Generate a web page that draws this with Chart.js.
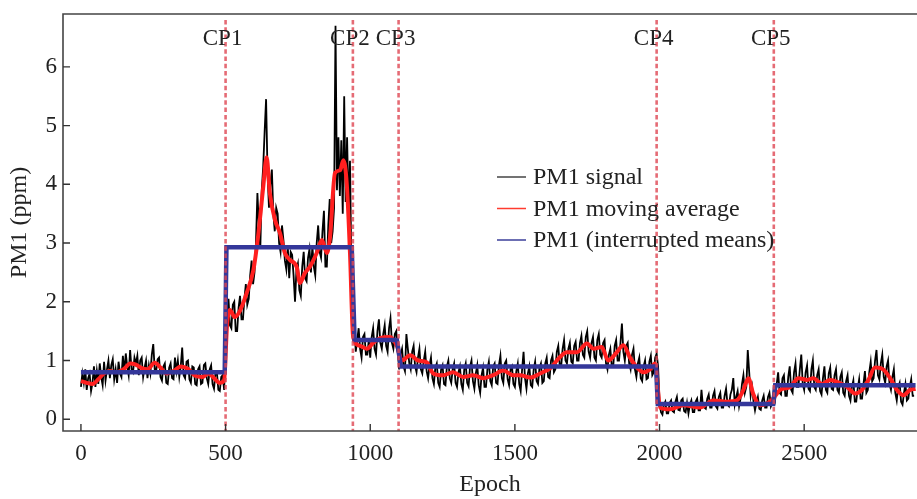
<!DOCTYPE html>
<html>
<head>
<meta charset="utf-8">
<script src="https://cdn.jsdelivr.net/npm/chart.js@4.4.1/dist/chart.umd.min.js"></script>
<style>
  html, body { margin: 0; padding: 0; background: #fff; }
  #pmChart { display: block; }
</style>
</head>
<body>
<canvas id="pmChart" width="917" height="499"></canvas>
<script>
// PM1 raw signal, one reading every 5 epochs (each row = 100 epochs)
const signalStep = 5;
const signalValues = [
  0.55, 0.78, 0.62, 0.85, 0.5, 0.7, 0.78, 0.48, 0.62, 0.9, 0.55, 0.82, 0.6, 0.95, 0.72, 0.58, 0.98, 0.66, 0.85, 1.0,
  0.7, 0.92, 1.02, 0.68, 0.85, 0.62, 0.98, 0.78, 0.72, 1.08, 0.8, 1.12, 0.9, 0.75, 1.18, 0.85, 0.8, 1.05, 0.95, 1.08,
  0.75, 1.0, 1.05, 0.72, 0.88, 1.0, 0.7, 0.92, 0.78, 1.1, 1.28, 0.85, 0.82, 1.02, 1.05, 0.72, 0.66, 0.9, 0.95, 0.62,
  0.6, 0.88, 0.95, 0.7, 0.68, 1.05, 0.82, 1.0, 0.72, 0.9, 1.22, 0.75, 0.7, 0.98, 1.0, 0.68, 0.62, 0.9, 0.88, 0.6,
  0.58, 0.85, 0.9, 0.6, 0.62, 0.92, 0.95, 0.7, 0.6, 0.85, 0.92, 0.6, 0.52, 0.78, 0.8, 0.5, 0.48, 0.72, 0.75, 0.5,
  1.2, 1.75, 2.05, 1.6, 1.55, 1.95, 2.0, 1.5, 1.5, 1.9, 2.1, 1.7, 1.7, 2.05, 2.3, 1.95, 2.05, 2.45, 2.7, 2.3,
  2.5, 3.0, 3.85, 3.3, 2.9, 3.9, 4.3, 4.9, 5.45, 4.2, 3.6, 4.0, 4.25, 3.5, 3.2, 3.6, 3.5, 3.0, 2.85, 3.3,
  3.05, 2.7, 2.55, 2.95, 2.4, 2.85, 2.8, 2.45, 2.0, 2.55, 2.65, 2.2, 2.1, 2.6, 2.85, 2.4, 2.35, 2.75, 2.9, 2.5,
  2.95, 2.6, 2.45, 3.0, 3.3, 2.85, 2.75, 3.2, 3.55, 2.6, 2.6, 3.3, 3.75, 3.0, 3.2, 3.6, 6.7, 3.9, 4.8, 3.8,
  4.75, 3.5, 5.5, 3.7, 4.8, 3.6, 4.4, 2.6, 1.45, 1.6, 1.15, 1.35, 1.55, 1.2, 1.05, 1.4, 1.45, 1.1, 1.1, 1.35,
  1.05, 1.4, 1.55, 1.2, 1.1, 1.5, 1.7, 1.3, 1.2, 1.45, 1.6, 1.25, 1.15, 1.55, 1.72, 1.3, 1.2, 1.45, 1.5, 1.15,
  0.85, 1.1, 1.2, 0.9, 0.82, 1.45, 1.2, 0.95, 0.85, 1.15, 1.25, 0.9, 0.8, 1.05, 1.2, 0.85, 0.78, 1.0, 1.15, 0.82,
  0.7, 0.92, 1.05, 0.7, 0.6, 0.88, 0.95, 0.62, 0.55, 0.85, 0.92, 0.6, 0.58, 0.9, 1.0, 0.7, 0.62, 0.85, 0.95, 0.62,
  0.55, 0.8, 0.9, 0.6, 0.5, 0.85, 0.95, 0.62, 0.56, 0.9, 1.0, 0.65, 0.52, 0.78, 0.92, 0.58, 0.45, 0.75, 0.88, 0.55,
  0.55, 0.85, 0.98, 0.65, 0.58, 0.9, 0.95, 0.62, 0.6, 0.92, 1.08, 0.7, 0.62, 0.95, 1.0, 0.68, 0.58, 0.85, 0.9, 0.6,
  0.55, 0.82, 0.95, 0.6, 0.48, 0.85, 1.15, 0.7, 0.52, 0.78, 0.9, 0.58, 0.55, 0.85, 0.98, 0.65, 0.6, 0.88, 0.95, 0.62,
  0.65, 0.95, 1.05, 0.72, 0.7, 1.0, 1.08, 0.8, 0.85, 1.15, 1.25, 0.92, 0.9, 1.2, 1.35, 1.0, 0.95, 1.2, 1.3, 0.98,
  0.95, 1.25, 1.32, 1.0, 1.0, 1.3, 1.42, 1.1, 1.05, 1.4, 1.5, 1.15, 1.05, 1.3, 1.4, 1.05, 1.0, 1.35, 1.45, 1.1,
  1.05, 1.3, 1.35, 0.95, 0.85, 1.1, 1.2, 0.9, 0.9, 1.25, 1.35, 1.0, 1.0, 1.3, 1.63, 1.15, 1.0, 1.25, 1.3, 0.95,
  0.85, 1.1, 1.2, 0.85, 0.72, 0.95, 1.05, 0.7, 0.65, 0.9, 1.0, 0.68, 0.7, 0.98, 1.08, 0.75, 0.8, 1.05, 1.12, 0.9,
  0.3, 0.12, 0.08, 0.25, 0.3, 0.1, 0.1, 0.28, 0.32, 0.14, 0.12, 0.3, 0.38, 0.16, 0.15, 0.32, 0.35, 0.14, 0.12, 0.28,
  0.1, 0.25, 0.32, 0.12, 0.12, 0.3, 0.35, 0.15, 0.15, 0.5, 0.22, 0.2, 0.18, 0.35, 0.42, 0.2, 0.2, 0.4, 0.48, 0.22,
  0.18, 0.38, 0.45, 0.2, 0.2, 0.4, 0.52, 0.25, 0.22, 0.42, 0.5, 0.7, 0.25, 0.38, 0.48, 0.22, 0.35, 0.6, 0.75, 0.45,
  0.55, 1.18, 0.8, 0.4, 0.55, 0.3, 0.15, 0.28, 0.38, 0.18, 0.16, 0.32, 0.4, 0.2, 0.2, 0.38, 0.45, 0.22, 0.28, 0.5,
  0.35, 0.6, 0.8, 0.45, 0.42, 0.7, 0.75, 0.4, 0.4, 0.72, 0.9, 0.5, 0.45, 0.8, 0.95, 0.55, 0.55, 0.85, 1.1, 0.6,
  0.5, 0.8, 0.92, 0.52, 0.48, 0.85, 1.0, 0.55, 0.5, 0.75, 0.85, 0.48, 0.42, 0.7, 0.9, 0.5, 0.45, 0.78, 0.88, 0.52,
  0.5, 0.75, 0.85, 0.5, 0.45, 0.72, 0.8, 0.45, 0.4, 0.65, 0.75, 0.4, 0.32, 0.55, 0.66, 0.3, 0.3, 0.52, 0.68, 0.35,
  0.35, 0.6, 0.82, 0.45, 0.5, 0.8, 0.98, 0.65, 0.7, 1.0, 1.18, 0.75, 0.68, 0.95, 1.1, 0.72, 0.62, 0.9, 1.0, 0.6,
  0.5, 0.72, 0.85, 0.45, 0.32, 0.55, 0.62, 0.3, 0.25, 0.45, 0.6, 0.32, 0.35, 0.55, 0.68, 0.4, 0.4
];

// moving average, read at uneven epochs
const maEpochs = [0, 20, 40, 60, 80, 100, 120, 150, 170, 190, 210, 230, 255, 275, 295, 320, 345, 370, 395, 420, 440, 460, 480, 495,
  505, 515, 532, 550, 573, 596, 612, 630, 642, 653, 671, 688, 705, 723, 746, 757, 774, 792, 815, 833, 850, 861, 878, 896, 907, 919, 930,
  941, 965, 989, 1010, 1034, 1068, 1092, 1110, 1138, 1166, 1195, 1218, 1252, 1286, 1322, 1356, 1390, 1425, 1460, 1494,
  1518, 1553, 1587, 1622, 1656, 1680, 1714, 1749, 1772, 1800, 1823, 1852, 1875, 1898, 1921, 1944, 1967, 1985,
  2002, 2036, 2082, 2140, 2186, 2232, 2267, 2290, 2307, 2324, 2347, 2382, 2400, 2417, 2452,
  2480, 2510, 2532, 2562, 2590, 2618, 2648, 2676, 2700, 2722, 2745, 2773, 2797, 2821, 2844, 2866, 2885];
const maValues = [0.65, 0.62, 0.6, 0.68, 0.78, 0.82, 0.8, 0.86, 0.95, 0.93, 0.87, 0.85, 0.96, 0.88, 0.78, 0.82, 0.9, 0.86, 0.74, 0.72, 0.78, 0.7, 0.62, 0.66,
  1.6, 1.86, 1.74, 1.85, 2.15, 2.54, 3.1, 3.95, 4.46, 3.85, 3.39, 3.17, 2.83, 2.71, 2.59, 2.32, 2.49, 2.6, 2.83, 3.05, 2.83, 3.1, 4.19, 4.24, 4.41, 4.0, 2.83,
  1.4, 1.25, 1.2, 1.3, 1.38, 1.4, 1.25, 1.0, 1.09, 1.0, 0.97, 0.78, 0.75, 0.8, 0.72, 0.75, 0.7, 0.75, 0.83, 0.75,
  0.75, 0.71, 0.78, 0.87, 1.06, 1.14, 1.14, 1.29, 1.2, 1.23, 1.0, 1.14, 1.26, 1.05, 0.89, 0.8, 0.85, 0.95,
  0.2, 0.17, 0.24, 0.2, 0.32, 0.3, 0.32, 0.5, 0.7, 0.43, 0.24, 0.3, 0.4, 0.5, 0.55,
  0.7, 0.67, 0.7, 0.6, 0.67, 0.63, 0.55, 0.44, 0.5, 0.67, 0.88, 0.85, 0.7, 0.5, 0.41, 0.5, 0.52];

// interrupted means (step function)
const stepEpochs = [0, 497, 503, 936, 946, 1092, 1106, 1988, 1994, 2393, 2400, 2885];
const stepValues = [0.8, 0.8, 2.93, 2.93, 1.35, 1.35, 0.9, 0.9, 0.26, 0.26, 0.58, 0.58];

// change points
const cpLabels = ["CP1", "CP2", "CP3", "CP4", "CP5"];
const cpEpochs = [500, 940, 1098, 1990, 2395];

const xTicks = [0, 500, 1000, 1500, 2000, 2500];
const yTicks = [0, 1, 2, 3, 4, 5, 6];

const legendItems = [
  { text: "PM1 signal", color: "#444444" },
  { text: "PM1 moving average", color: "#ff3b2f" },
  { text: "PM1 (interrupted means)", color: "#3b3f9a" },
];

const serif = "'Liberation Serif', 'Times New Roman', serif";

const signalPoints = signalValues.map((v, i) => ({ x: i * signalStep, y: v }));
const maPoints = maEpochs.map((e, i) => ({ x: e, y: maValues[i] }));
const stepPoints = stepEpochs.map((e, i) => ({ x: e, y: stepValues[i] }));

const noPad = (s) => {
  s.paddingTop = 0; s.paddingBottom = 0; s.paddingLeft = 0; s.paddingRight = 0;
};

const decorPlugin = {
  id: "decor",
  afterDatasetsDraw(chart) {
    const { ctx, chartArea: a, scales } = chart;
    const xs = scales.x, ys = scales.y;
    ctx.save();

    // change point lines
    ctx.strokeStyle = "rgba(222,70,82,0.8)";
    ctx.lineWidth = 2.6;
    ctx.setLineDash([4.5, 2.8]);
    cpEpochs.forEach((e) => {
      const px = xs.getPixelForValue(e);
      ctx.beginPath();
      ctx.moveTo(px, a.top + 6);
      ctx.lineTo(px, a.bottom);
      ctx.stroke();
    });
    ctx.setLineDash([]);

    // change point labels
    ctx.fillStyle = "#222";
    ctx.font = "23px " + serif;
    ctx.textBaseline = "middle";
    ctx.textAlign = "left";
    let prevRight = -Infinity;
    cpLabels.forEach((lbl, i) => {
      const w = ctx.measureText(lbl).width;
      let left = xs.getPixelForValue(cpEpochs[i]) - 3 - w / 2;
      if (left < prevRight) left = prevRight;
      ctx.fillText(lbl, left, 39);
      prevRight = left + w;
    });

    // frame: left, top, bottom
    ctx.strokeStyle = "#444";
    ctx.lineWidth = 1.6;
    ctx.beginPath();
    ctx.moveTo(a.right, a.top);
    ctx.lineTo(a.left, a.top);
    ctx.lineTo(a.left, a.bottom);
    ctx.lineTo(a.right, a.bottom);
    ctx.stroke();

    // inward tick marks
    ctx.lineWidth = 1.4;
    ctx.strokeStyle = "#333";
    ctx.beginPath();
    xTicks.forEach((t) => {
      const px = xs.getPixelForValue(t);
      ctx.moveTo(px, a.bottom);
      ctx.lineTo(px, a.bottom - 7);
    });
    yTicks.forEach((t) => {
      const py = ys.getPixelForValue(t);
      ctx.moveTo(a.left, py);
      ctx.lineTo(a.left + 7, py);
    });
    ctx.stroke();

    // legend
    ctx.font = "24px " + serif;
    ctx.textAlign = "left";
    ctx.textBaseline = "middle";
    legendItems.forEach((it, i) => {
      const y = 177 + i * 31.5;
      ctx.strokeStyle = it.color;
      ctx.lineWidth = 1.5;
      ctx.beginPath();
      ctx.moveTo(497, y);
      ctx.lineTo(526, y);
      ctx.stroke();
      ctx.fillStyle = "#222";
      ctx.fillText(it.text, 533, y + 1);
    });

    ctx.restore();
  },
};

new Chart(document.getElementById("pmChart"), {
  type: "line",
  data: {
    datasets: [
      {
        label: "PM1 signal",
        data: signalPoints,
        borderColor: "#000",
        borderWidth: 1.8,
        pointRadius: 0,
        tension: 0,
        order: 4,
      },
      {
        label: "PM1 moving average",
        data: maPoints,
        borderColor: "#ff1f1f",
        borderWidth: 4,
        pointRadius: 0,
        cubicInterpolationMode: "monotone",
        order: 3,
      },
      {
        label: "PM1 (interrupted means)",
        data: stepPoints,
        borderColor: "#34379a",
        borderWidth: 4.5,
        pointRadius: 0,
        tension: 0,
        order: 2,
      },
    ],
  },
  options: {
    responsive: false,
    animation: false,
    layout: { padding: { top: 14, left: 0, right: 0, bottom: 0 } },
    plugins: {
      legend: { display: false },
      tooltip: { enabled: false },
    },
    scales: {
      x: {
        type: "linear",
        min: -62,
        max: 2890,
        afterBuildTicks: (s) => { s.ticks = xTicks.map((v) => ({ value: v })); },
        afterFit: (s) => { s.height = 68; noPad(s); },
        grid: { display: false, drawTicks: false },
        border: { display: false },
        ticks: {
          padding: 9,
          color: "#222",
          font: { family: serif, size: 23 },
          callback: (v) => String(v),
        },
        title: {
          display: true,
          text: "Epoch",
          color: "#222",
          font: { family: serif, size: 24 },
          padding: { top: 0, bottom: 0 },
        },
      },
      y: {
        type: "linear",
        min: -0.2,
        max: 6.9,
        afterBuildTicks: (s) => { s.ticks = yTicks.map((v) => ({ value: v })); },
        afterFit: (s) => { s.width = 63; noPad(s); },
        grid: { display: false, drawTicks: false },
        border: { display: false },
        ticks: {
          padding: 6,
          color: "#222",
          font: { family: serif, size: 23 },
          callback: (v) => String(v),
        },
        title: {
          display: true,
          text: "PM1 (ppm)",
          color: "#222",
          font: { family: serif, size: 24 },
          padding: { top: 5, bottom: 0 },
        },
      },
    },
  },
  plugins: [decorPlugin],
});
</script>
</body>
</html>
